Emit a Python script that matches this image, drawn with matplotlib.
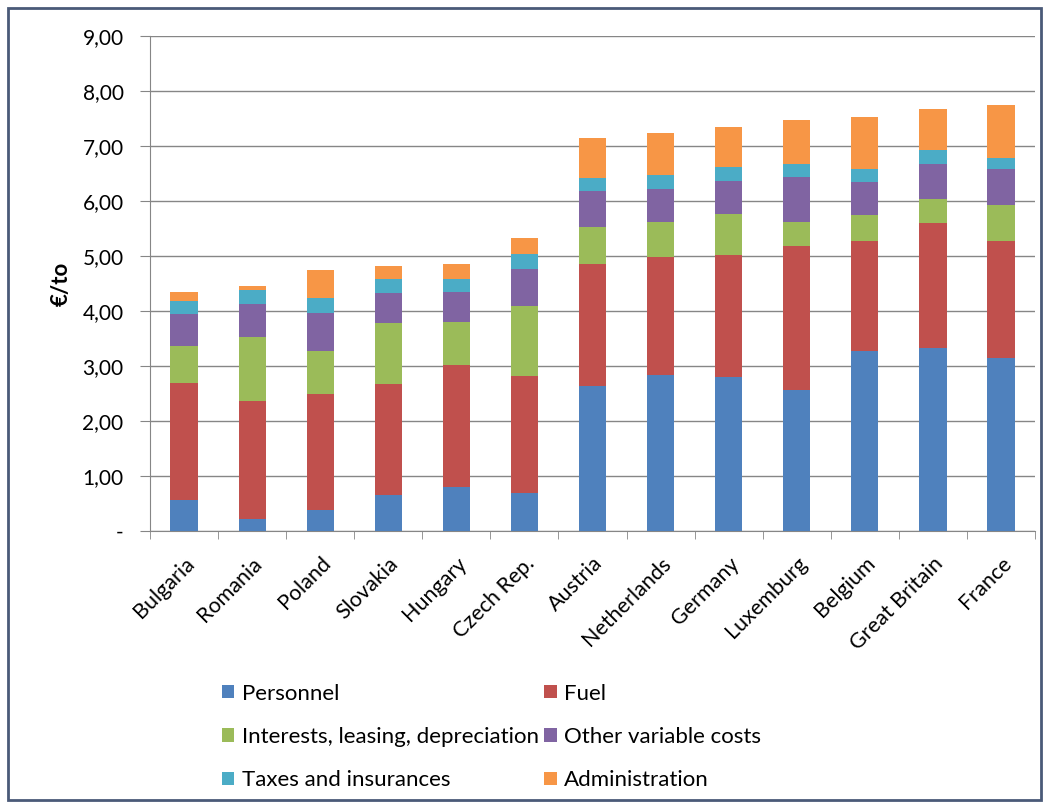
import matplotlib
matplotlib.use("Agg")
import matplotlib.pyplot as plt
import numpy as np
from matplotlib.patches import Rectangle
from matplotlib.ticker import FuncFormatter

plt.rcParams['font.family'] = ['Lato', 'DejaVu Sans']

# cost per tonne, by country
countries = ["Bulgaria", "Romania", "Poland", "Slovakia", "Hungary", "Czech Rep.",
             "Austria", "Netherlands", "Germany", "Luxemburg", "Belgium",
             "Great Britain", "France"]
personnel = [0.56, 0.22, 0.39, 0.65, 0.80, 0.70, 2.63, 2.83, 2.80, 2.56, 3.28, 3.33, 3.15]
fuel = [2.14, 2.14, 2.11, 2.03, 2.21, 2.12, 2.23, 2.16, 2.22, 2.62, 1.99, 2.27, 2.12]
interests = [0.66, 1.17, 0.78, 1.10, 0.79, 1.27, 0.67, 0.62, 0.75, 0.44, 0.48, 0.44, 0.66]
other_var = [0.58, 0.59, 0.68, 0.55, 0.55, 0.67, 0.65, 0.61, 0.59, 0.82, 0.60, 0.64, 0.66]
taxes = [0.24, 0.26, 0.27, 0.25, 0.24, 0.27, 0.24, 0.26, 0.25, 0.24, 0.24, 0.25, 0.19]
admin = [0.17, 0.07, 0.52, 0.24, 0.26, 0.29, 0.73, 0.76, 0.74, 0.79, 0.94, 0.74, 0.96]

series = [
    ("Personnel", personnel, "#4F81BD"),
    ("Fuel", fuel, "#C0504D"),
    ("Interests, leasing, depreciation", interests, "#9BBB59"),
    ("Other variable costs", other_var, "#8064A2"),
    ("Taxes and insurances", taxes, "#4BACC6"),
    ("Administration", admin, "#F79646"),
]

fig = plt.figure(figsize=(10.49, 8.08), dpi=100)
ax = fig.add_axes([0.143, 0.3428, 0.8437, 0.6126])

x = np.arange(len(countries))
bottom = np.zeros(len(countries))
handles = {}
for name, vals, col in series:
    b = ax.bar(x, vals, 0.4, bottom=bottom, color=col, label=name, zorder=3)
    handles[name] = b
    bottom += np.array(vals)

ax.set_xlim(-0.5, len(countries) - 0.5)
ax.set_ylim(0, 9)
ax.set_yticks(np.arange(0, 10, 1))
ax.yaxis.set_major_formatter(FuncFormatter(
    lambda v, p: "-" if v == 0 else ("%.2f" % v).replace(".", ",")))
ax.grid(axis="y", color="#868686", linewidth=1, zorder=0)
for s in ["top", "right"]:
    ax.spines[s].set_visible(False)
for s in ["left", "bottom"]:
    ax.spines[s].set_color("#868686")
ax.tick_params(axis="y", length=7, color="#868686", labelsize=15, pad=12)
ax.tick_params(axis="x", length=0, labelsize=15.5, pad=16)

# category separators on the x axis
ax.set_xticks(np.arange(-0.5, len(countries), 1), minor=True)
ax.tick_params(axis="x", which="minor", length=6, color="#868686")
ax.set_xticks(x)
ax.set_xticklabels(countries, rotation=45, ha="right", rotation_mode="anchor")

ax.set_ylabel("€/to", fontsize=16, fontweight="bold", labelpad=8)

order = ["Personnel", "Interests, leasing, depreciation", "Taxes and insurances",
         "Fuel", "Other variable costs", "Administration"]
fig.legend([handles[n] for n in order], order, ncol=2, loc="upper left",
           bbox_to_anchor=(0.203, 0.165), frameon=False, fontsize=16,
           handlelength=0.55, handleheight=0.55, handletextpad=0.35,
           columnspacing=0.25, labelspacing=1.05, borderaxespad=0)

# frame around the whole chart
fig.patches.append(Rectangle((0.008, 0.01), 0.984, 0.98, transform=fig.transFigure,
                             fill=False, edgecolor="#4a5a78", linewidth=2))

fig.savefig("out.png", dpi=100)
